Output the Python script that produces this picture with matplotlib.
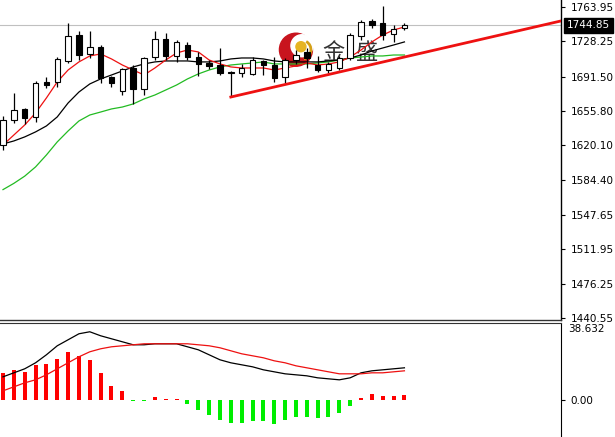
import matplotlib
matplotlib.use("Agg")
import matplotlib.pyplot as plt
import numpy as np
from matplotlib.patches import Circle, Arc
from matplotlib.transforms import ScaledTranslation

# daily candles
opens = [1620.4, 1646.4, 1657.9, 1649.6, 1685.9, 1685.9, 1707.8, 1734.8, 1715.1, 1722.3,
         1691.1, 1676.6, 1700.5, 1678.7, 1711.9, 1730.7, 1713.0, 1724.4, 1711.9, 1705.7,
         1703.6, 1696.3, 1695.3, 1694.3, 1707.8, 1703.6, 1691.1, 1708.8, 1717.2, 1703.6,
         1698.4, 1700.5, 1710.9, 1733.8, 1749.4, 1747.3, 1735.9, 1742.1]
highs = [1650.6, 1674.5, 1658.9, 1687.0, 1691.1, 1711.9, 1747.3, 1739.0, 1739.0, 1724.4,
         1692.2, 1700.5, 1703.6, 1711.9, 1739.0, 1736.9, 1729.6, 1727.6, 1717.2, 1708.8,
         1721.3, 1697.4, 1704.7, 1711.9, 1708.8, 1711.9, 1710.9, 1719.2, 1721.3, 1713.0,
         1706.8, 1713.0, 1736.9, 1750.4, 1751.5, 1765.0, 1745.2, 1747.3]
lows = [1615.2, 1643.3, 1642.2, 1644.4, 1679.7, 1680.7, 1705.7, 1708.8, 1710.9, 1684.9,
        1680.7, 1672.4, 1663.1, 1672.4, 1708.8, 1708.8, 1706.8, 1708.8, 1692.2, 1699.5,
        1693.2, 1671.4, 1691.1, 1693.2, 1693.2, 1686.0, 1684.9, 1704.7, 1700.5, 1696.3,
        1695.3, 1698.4, 1708.8, 1729.6, 1742.1, 1729.6, 1727.6, 1740.0]
closes = [1646.4, 1656.8, 1648.5, 1684.9, 1682.8, 1709.9, 1733.8, 1714.0, 1722.3, 1690.1,
          1684.9, 1699.5, 1678.7, 1710.9, 1730.7, 1713.0, 1727.6, 1711.9, 1704.7, 1702.6,
          1695.3, 1695.3, 1700.5, 1708.8, 1703.6, 1690.1, 1708.8, 1714.0, 1710.9, 1698.4,
          1704.7, 1710.9, 1734.8, 1748.3, 1745.2, 1734.8, 1741.1, 1744.85]

# moving averages (fast red, middle black, slow green)
ma_red = [1620.4, 1630.8, 1641.2, 1653.7, 1669.3, 1686.0, 1698.4, 1706.8, 1713.0, 1715.1,
          1709.9, 1703.6, 1698.4, 1693.2, 1700.5, 1708.8, 1716.1, 1719.2, 1717.2, 1708.8,
          1704.7, 1701.6, 1700.5, 1700.5, 1700.5, 1698.4, 1700.5, 1702.6, 1705.7, 1703.6,
          1704.7, 1706.8, 1711.9, 1719.2, 1727.6, 1734.8, 1740.0, 1743.2]
ma_black = [1621.5, 1624.6, 1628.8, 1634.0, 1640.2, 1649.6, 1664.1, 1675.5, 1683.9, 1689.1,
            1693.2, 1697.4, 1701.6, 1704.7, 1706.8, 1707.8, 1707.8, 1707.8, 1706.8, 1706.8,
            1707.8, 1709.9, 1710.9, 1710.9, 1709.9, 1707.8, 1706.8, 1706.8, 1706.8, 1706.8,
            1707.8, 1708.8, 1710.9, 1714.0, 1718.2, 1721.3, 1724.4, 1727.6]
ma_green = [1574.0, 1580.5, 1588.0, 1597.6, 1610.0, 1623.6, 1635.0, 1645.4, 1651.6, 1654.7,
            1657.9, 1659.9, 1663.1, 1668.3, 1672.4, 1677.6, 1682.8, 1689.1, 1694.3, 1698.4,
            1701.6, 1703.6, 1704.7, 1705.7, 1706.8, 1704.7, 1704.7, 1704.7, 1704.7, 1705.7,
            1706.8, 1708.8, 1710.9, 1711.9, 1713.0, 1713.0, 1714.0, 1714.0]

# MACD panel
macd_hist = [13.5, 15.0, 14.0, 17.5, 18.0, 20.5, 24.0, 22.0, 20.0, 13.5, 7.0, 4.5,
             -0.6, -0.6, 1.5, 0.6, 0.6, -2.0, -5.0, -7.5, -10.0, -11.5, -11.5, -10.5,
             -10.5, -12.0, -10.0, -8.5, -8.5, -9.0, -8.5, -6.5, -3.0, 1.0, 3.0, 2.0, 2.0, 2.5]
macd_dif = [11.5, 13.5, 15.5, 18.5, 22.5, 27.0, 30.0, 33.0, 34.0, 32.0, 30.5, 29.0, 27.5,
            27.5, 28.0, 28.0, 28.0, 26.5, 25.0, 22.5, 20.0, 18.5, 17.5, 16.5, 15.0, 14.0,
            13.0, 12.5, 12.0, 11.0, 10.5, 10.0, 11.0, 13.5, 14.5, 15.0, 15.5, 16.0]
macd_dea = [4.5, 6.5, 8.5, 10.0, 12.5, 15.5, 18.5, 21.5, 24.0, 25.5, 26.5, 27.0, 27.5,
            28.0, 28.0, 28.0, 28.0, 28.0, 27.5, 27.0, 26.0, 24.5, 23.0, 22.0, 21.0, 19.5,
            18.5, 17.0, 16.0, 15.0, 14.0, 13.0, 13.0, 13.0, 13.5, 13.5, 14.0, 14.5]

# trend line through the lows
trend_x = [21, 52]
trend_y = [1670.3, 1750.9]

price_ticks = [1763.95, 1728.25, 1691.50, 1655.80, 1620.10, 1584.40, 1547.65, 1511.95, 1476.25, 1440.55]
last_price = 1744.85
macd_top = 38.632

x = np.arange(len(opens))
o = np.array(opens); c = np.array(closes)

fig = plt.figure(figsize=(6.15, 4.37), dpi=100)
fig.patch.set_facecolor("white")
W, H = 615.0, 437.0
ax = fig.add_axes([0, (H - 320) / H, 561 / W, 320 / H])
ax2 = fig.add_axes([0, 0, 561 / W, 114.5 / H])

xlim = (-0.276, 51.43)

# candles
ax.vlines(x, lows, highs, color="black", lw=0.9, zorder=3)
body_h = np.maximum(np.abs(c - o), 0.9)
body_b = np.minimum(o, c)
cols = ["white" if cc >= oo else "black" for oo, cc in zip(o, c)]
ax.bar(x, body_h, bottom=body_b, width=0.5, color=cols, edgecolor="black", linewidth=0.8, zorder=4)

ax.plot(x, ma_green, color="#22bb22", lw=0.9, zorder=2.5)
ax.plot(x, ma_black, color="black", lw=0.9, zorder=2.6)
ax.plot(x, ma_red, color="#ee1111", lw=0.9, zorder=2.7)
ax.plot(trend_x, trend_y, color="#ee1111", lw=2, zorder=5)
ax.axhline(last_price, color="#c0c0c0", lw=0.8, zorder=1)

# watermark logo
trans = fig.dpi_scale_trans + ScaledTranslation(27.0, 1719.5, ax.transData)
ax.add_patch(Circle((0, 0), 0.165, color="#c8141e", transform=trans, zorder=2))
ax.add_patch(Circle((0.06, 0.04), 0.11, color="white", transform=trans, zorder=2.1))
ax.add_patch(Arc((0.055, 0.0), 0.19, 0.19, theta1=-75, theta2=60, color="#d4a017", lw=2,
                 transform=trans, zorder=2.2))
ax.add_patch(Circle((0.05, 0.03), 0.05, color="#e6b422", transform=trans, zorder=2.2))
for ch, dx in [("金", 0.38), ("盛", 0.70)]:
    ax.text(dx, -0.025, ch, transform=trans, fontsize=16, color="#333333",
            family=["Noto Sans CJK SC", "DejaVu Sans"], ha="center", va="center", zorder=2.3)

ax.set_xlim(*xlim)
ax.set_ylim(1438.4, 1771.2)
ax.set_xticks([])
ax.yaxis.tick_right()
ax.set_yticks(price_ticks)
ax.set_yticklabels(["%.2f" % t for t in price_ticks])
ax.tick_params(axis="y", direction="out", length=3, width=0.8, pad=4, labelsize=7.5, colors="black")
for s in ["left", "top"]:
    ax.spines[s].set_visible(False)
ax.spines["right"].set_linewidth(1.0)
ax.spines["bottom"].set_linewidth(1.0)
ax.spines["bottom"].set_color("#333333")

ax.annotate("%.2f" % last_price, xy=(1, last_price), xycoords=("axes fraction", "data"),
            xytext=(6, 0), textcoords="offset pixels", ha="left", va="center",
            fontsize=7.5, color="white",
            bbox=dict(boxstyle="square,pad=0.25", fc="black", ec="black"), zorder=10,
            annotation_clip=False)

# MACD
hist = np.array(macd_hist)
hcols = ["#ff0000" if v > 0 else "#00ee00" for v in hist]
ax2.bar(x, hist, width=0.37, color=hcols, zorder=2)
ax2.plot(x, macd_dif, color="black", lw=0.9, zorder=3)
ax2.plot(x, macd_dea, color="#ee1111", lw=0.9, zorder=3)
ax2.set_xlim(*xlim)
ax2.set_ylim(-18.56, macd_top)
ax2.set_xticks([])
ax2.yaxis.tick_right()
ax2.set_yticks([0])
ax2.set_yticklabels(["0.00"])
ax2.tick_params(axis="y", direction="out", length=3, width=0.8, pad=4, labelsize=7.5)
ax2.text(1.012, 0.985, "%.3f" % macd_top, transform=ax2.transAxes, ha="left", va="top",
         fontsize=7.5, color="black")
for s in ["left", "bottom"]:
    ax2.spines[s].set_visible(False)
ax2.spines["top"].set_color("#333333")

fig.savefig("out.png", dpi=100, facecolor="white")
